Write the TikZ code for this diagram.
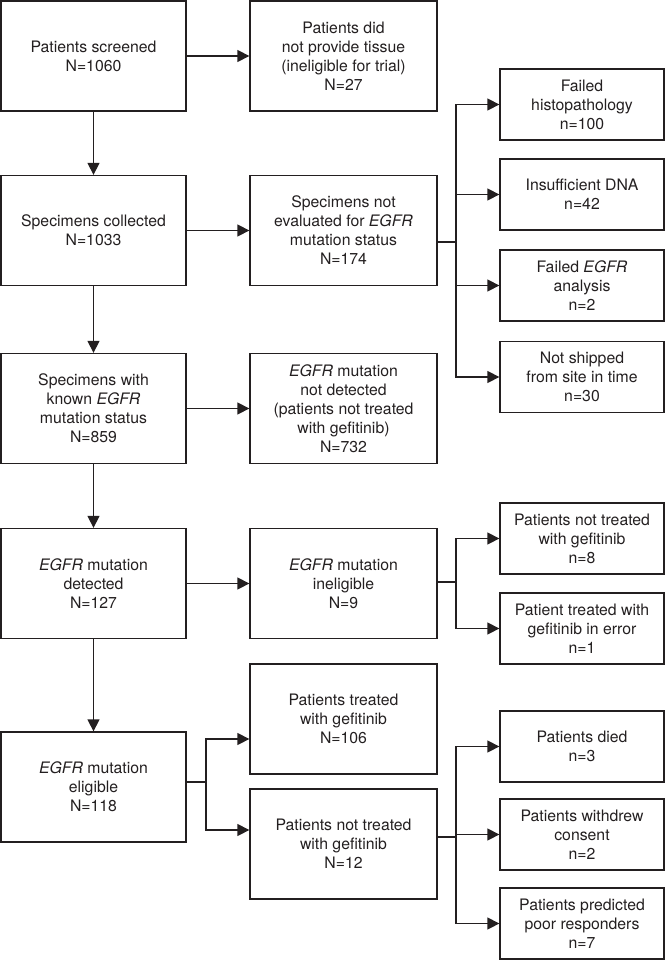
\documentclass[tikz,border=0pt]{standalone}
\usepackage{fontspec}
\setmainfont{TeX Gyre Heros}
\usetikzlibrary{arrows.meta}
\definecolor{ink}{RGB}{35,31,32}
\begin{document}
\begin{tikzpicture}[x=1pt,y=-1pt,
  box/.style={draw=ink,line width=1.3pt,align=center,inner sep=0pt,text=ink,
    font=\fontsize{15.8}{19}\selectfont},
  lbox/.style={box,minimum width=185pt,minimum height=110pt},
  mbox/.style={box,minimum width=187pt,minimum height=110pt},
  rbox/.style={box,minimum width=164pt,minimum height=71pt},
  conn/.style={draw=ink,line width=1.3pt},
  arr/.style={conn,-{Triangle[length=12pt,width=12pt]}}]
\useasboundingbox (0,0) rectangle (666,960);
% left column
\node[lbox] (L1) at (93.5,56) {Patients screened\\N=1060};
\node[lbox] (L2) at (93.5,230.5) {Specimens collected\\N=1033};
\node[lbox] (L3) at (93.5,408.5) {Specimens with\\known \textit{EGFR}\\mutation status\\N=859};
\node[lbox] (L4) at (93.5,583.5) {\textit{EGFR} mutation\\detected\\N=127};
\node[lbox] (L5) at (93.5,787) {\textit{EGFR} mutation\\eligible\\N=118};
% middle column
\node[mbox] (M1) at (343.5,56) {Patients did\\not provide tissue\\(ineligible for trial)\\N=27};
\node[mbox] (M2) at (343.5,230.5) {Specimens not\\evaluated for \textit{EGFR}\\mutation status\\N=174};
\node[mbox] (M3) at (343.5,408.5) {\textit{EGFR} mutation\\not detected\\(patients not treated\\with gefitinib)\\N=732};
\node[mbox] (M4) at (343.5,583.5) {\textit{EGFR} mutation\\ineligible\\N=9};
\node[mbox] (M5) at (343.5,719) {Patients treated\\with gefitinib\\N=106};
\node[mbox] (M6) at (343.5,844) {Patients not treated\\with gefitinib\\N=12};
% right column
\node[rbox] (R1) at (582,104.5) {Failed\\histopathology\\n=100};
\node[rbox] (R2) at (582,194.5) {Insufficient DNA\\n=42};
\node[rbox] (R3) at (582,285.5) {Failed \textit{EGFR}\\analysis\\n=2};
\node[rbox] (R4) at (582,377) {Not shipped\\from site in time\\n=30};
\node[rbox] (R5) at (582,538.5) {Patients not treated\\with gefitinib\\n=8};
\node[rbox] (R6) at (582,628.5) {Patient treated with\\gefitinib in error\\n=1};
\node[rbox] (R7) at (582,746.5) {Patients died\\n=3};
\node[rbox] (R8) at (582,834.5) {Patients withdrew\\consent\\n=2};
\node[rbox] (R9) at (582,923.5) {Patients predicted\\poor responders\\n=7};
% branch points
\coordinate (b1) at (456,242);
\coordinate (b2) at (456,582);
\coordinate (b3) at (206,782);
\coordinate (b4) at (456,837);
% vertical flow
\draw[arr] (L1) -- (L2);
\draw[arr] (L2) -- (L3);
\draw[arr] (L3) -- (L4);
\draw[arr] (L4) -- (L5);
% horizontal flow
\draw[arr] (L1) -- (M1);
\draw[arr] (L2) -- (M2);
\draw[arr] (L3) -- (M3);
\draw[arr] (L4) -- (M4);
% branch from M2
\draw[conn] (M2.east |- b1) -- (b1);
\draw[arr] (b1) |- (R1);
\draw[arr] (b1) |- (R2);
\draw[arr] (b1) |- (R3);
\draw[arr] (b1) |- (R4);
% branch from M4
\draw[conn] (M4.east |- b2) -- (b2);
\draw[arr] (b2) |- (R5);
\draw[arr] (b2) |- (R6);
% branch from L5
\draw[conn] (L5.east |- b3) -- (b3);
\draw[arr] (b3) |- (M5.west |- 0,739);
\draw[arr] (b3) |- (M6.west |- 0,830);
% branch from M6
\draw[conn] (M6.east |- b4) -- (b4);
\draw[arr] (b4) |- (R7);
\draw[arr] (b4) |- (R8);
\draw[arr] (b4) |- (R9);
\end{tikzpicture}
\end{document}
